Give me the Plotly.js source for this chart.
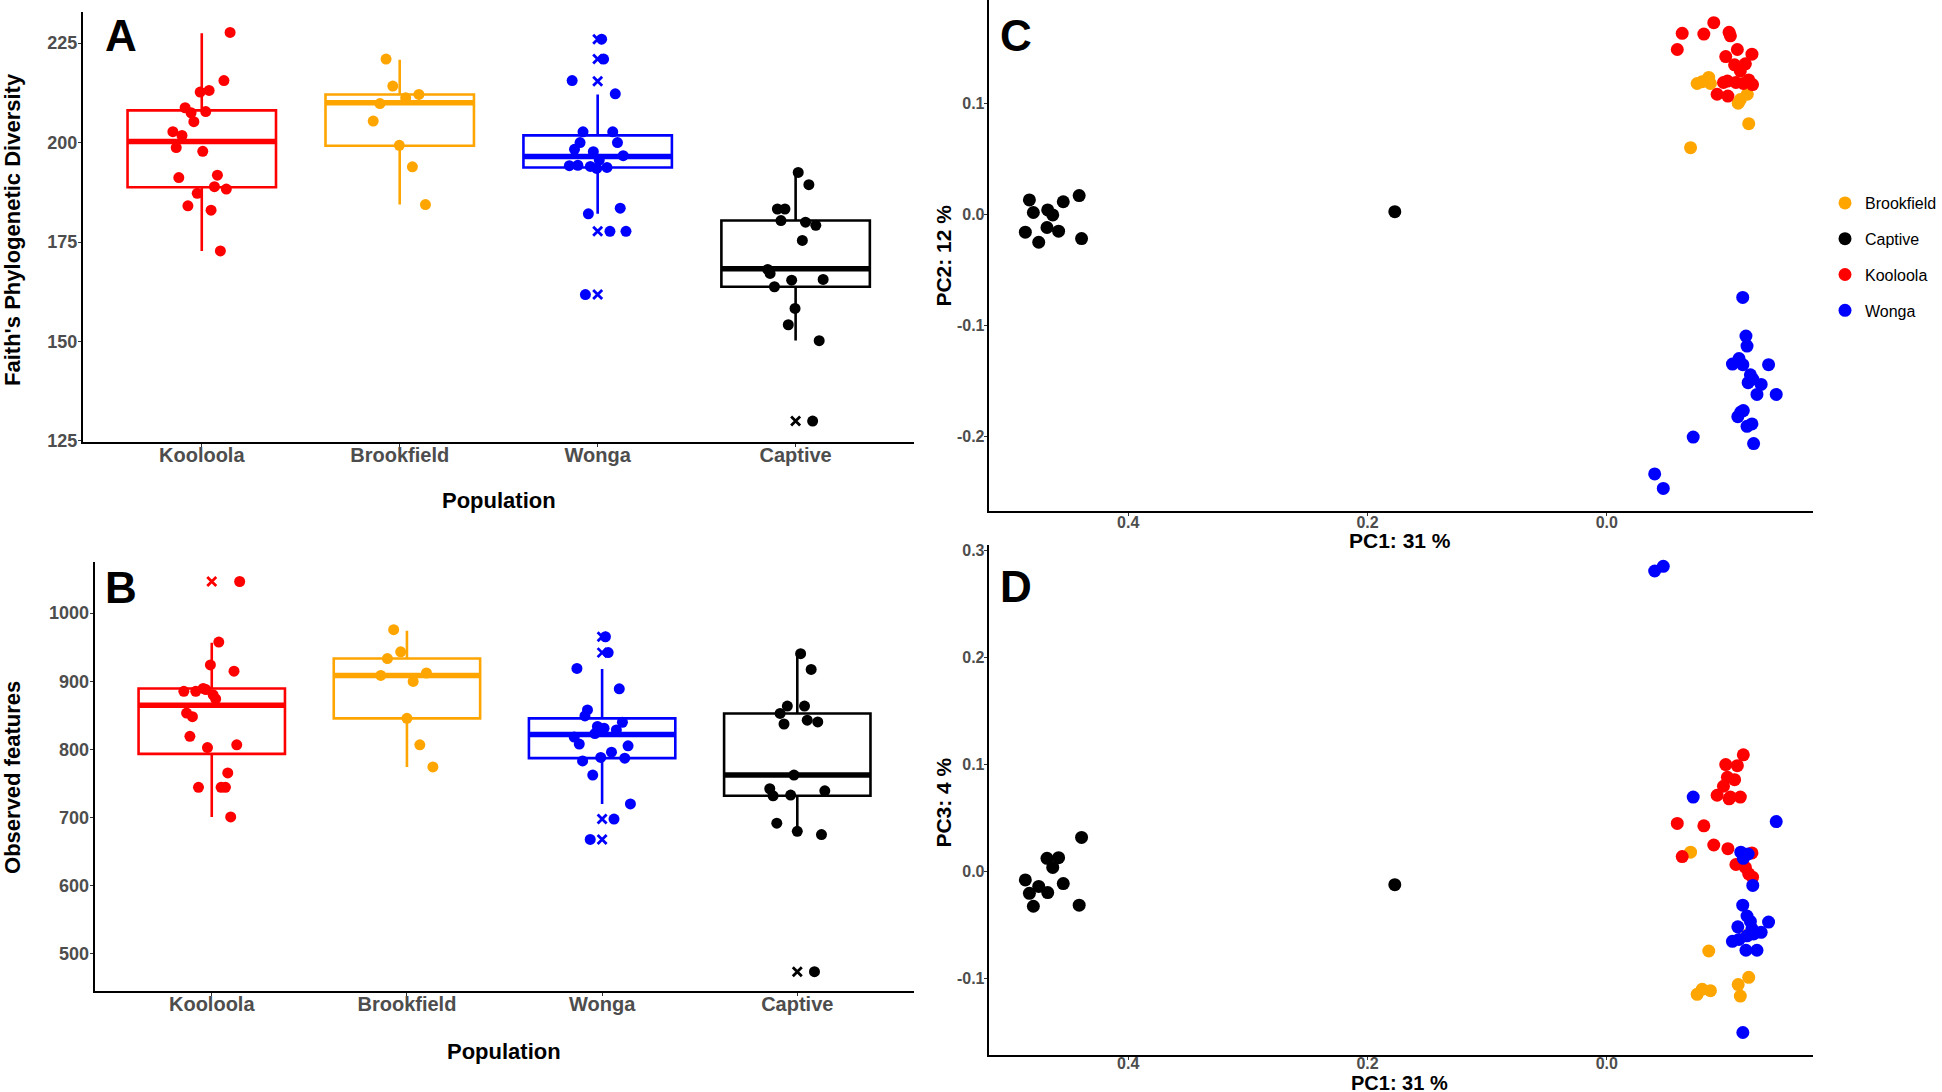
<!DOCTYPE html>
<html><head><meta charset="utf-8">
<script src="https://cdn.plot.ly/plotly-3.0.1.min.js"></script>
<style>html,body{margin:0;padding:0;background:#fff}#chart{width:1942px;height:1092px}</style>
</head><body><div id="chart"></div>
<script>
const W = 1942, H = 1092;
const FONT = "Liberation Sans, Arial, Helvetica, sans-serif";

const categories = ["Kooloola", "Brookfield", "Wonga", "Captive"];
const groupColors = ["#FF0000", "#FFA500", "#0000FF", "#000000"];

// ---- Panel A: Faith's Phylogenetic Diversity ----
const faithKooloola = [227.7, 215.6, 212.7, 213.1, 208.75, 207.5, 207.8, 205.25, 202.75, 201.8, 198.75, 197.8, 191.2, 191.8, 187.25, 188.9, 188.3, 184.1, 183.0, 172.75];
const faithKooloolaJitter = [0.143, 0.112, -0.008, 0.037, -0.084, -0.054, 0.02, -0.04, -0.146, -0.10, -0.129, 0.005, -0.116, 0.079, -0.023, 0.064, 0.124, -0.07, 0.047, 0.094];
const faithBrookfield = [221, 214.2, 211.25, 212.1, 209.8, 205.4, 199.3, 193.9, 184.4];
const faithBrookfieldJitter = [-0.069, -0.035, 0.03, 0.097, -0.10, -0.134, -0.002, 0.064, 0.13];
const faithWonga = [226, 221, 215.6, 212.25, 202.7, 202.7, 200, 200, 198.3, 197.7, 196.7, 195.6, 194.2, 194.3, 194, 193.5, 193.75, 182.1, 183.5, 177.7, 177.7, 161.8];
const faithWongaJitter = [0.02, 0.03, -0.129, 0.089, -0.074, 0.076, -0.089, 0.10, -0.117, -0.022, 0.129, 0.008, -0.143, -0.10, -0.037, -0.005, 0.047, -0.047, 0.114, 0.062, 0.143, -0.062];
const faithCaptive = [192.5, 189.4, 183.3, 183.3, 180.4, 180, 179.2, 175.4, 168.1, 167.1, 165.4, 165.6, 163.75, 158.3, 154.2, 150.2, 130];
const faithCaptiveJitter = [0.013, 0.067, -0.092, -0.054, -0.074, 0.05, 0.102, 0.034, -0.141, -0.129, -0.02, 0.139, -0.107, -0.003, -0.037, 0.119, 0.086];
const faithQ1 = [188.75, 199.2, 193.75, 163.75];
const faithMedian = [200.25, 210, 196.5, 168.3];
const faithQ3 = [208.1, 212.1, 201.8, 180.4];
const faithLower = [172.75, 184.4, 182.1, 150.25];
const faithUpper = [227.5, 220.8, 212.1, 192.5];
const faithOutlierGroup = [3, 3, 3, 3, 3, 4];
const faithOutlierValue = [226, 221, 215.4, 177.7, 161.8, 130];
const faithTicks = [125, 150, 175, 200, 225];

// ---- Panel B: Observed features ----
const obsKooloola = [1046.5, 957.6, 924, 914.8, 885.3, 885.3, 889.5, 880.2, 874, 853.3, 848.1, 819.2, 802.7, 806.8, 765.5, 744.3, 744.3, 744.3, 700.9, 887.9];
const obsKooloolaJitter = [0.143, 0.036, -0.007, 0.114, -0.143, -0.082, -0.044, 0.007, 0.02, -0.129, -0.099, -0.112, -0.022, 0.128, 0.082, -0.068, 0.048, 0.07, 0.097, -0.03];
const obsBrookfield = [975.7, 943.2, 933.4, 908.6, 912.2, 899.8, 845.6, 806.8, 774.3];
const obsBrookfieldJitter = [-0.068, -0.032, -0.1, -0.134, 0.1, 0.032, 0, 0.066, 0.133];
const obsWonga = [965.4, 942.1, 918.9, 888.9, 857.9, 849.2, 839.9, 833.7, 831.1, 828.5, 823.3, 818.2, 807.9, 805.3, 796, 788.2, 787.2, 783.1, 762.4, 720, 697.8, 667.9];
const obsWongaJitter = [0.017, 0.031, -0.129, 0.088, -0.075, -0.088, 0.104, -0.024, 0.01, 0.073, -0.037, -0.143, -0.117, 0.133, 0.048, -0.007, 0.116, -0.1, -0.048, 0.145, 0.061, -0.061];
const obsCaptive = [940.6, 917.4, 863.6, 863.6, 852.8, 837.3, 843, 840.4, 762.4, 742.3, 731.9, 733, 739.2, 691.8, 679.8, 675.1, 473.7];
const obsCaptiveJitter = [0.017, 0.071, -0.051, 0.037, -0.088, -0.068, 0.051, 0.105, -0.017, -0.141, -0.124, -0.034, 0.141, -0.105, 0, 0.124, 0.088];
const obsQ1 = [793.4, 845.6, 787.2, 731.9];
const obsMedian = [864.7, 908.6, 821.8, 762.4];
const obsQ3 = [889.5, 933.4, 845.6, 852.8];
const obsLower = [700.9, 774.3, 720, 678.7];
const obsUpper = [956.6, 974.2, 917.9, 939.6];
const obsOutlierGroup = [1, 3, 3, 3, 3, 4];
const obsOutlierValue = [1046.5, 965.4, 942.1, 697.8, 667.9, 473.7];
const obsTicks = [500, 600, 700, 800, 900, 1000];

// ---- Panels C & D: PCA ----
const pcaGroups = ["Brookfield", "Captive", "Kooloola", "Wonga"];
const pcaColors = ["#FFA500", "#000000", "#FF0000", "#0000FF"];
const pc1Brookfield = [-0.0700, -0.0755, -0.0797, -0.0852, -0.0866, -0.1098, -0.1116, -0.1174, -0.1186];
const pc2Brookfield = [0.0600, 0.1178, 0.1194, 0.1233, 0.1178, 0.1000, 0.1033, 0.1081, 0.0816];
const pc3Brookfield = [0.0182, -0.1145, -0.1098, -0.0741, -0.1111, -0.1054, -0.1162, -0.0593, -0.0987];
const pc1Captive = [0.4826, 0.4793, 0.4673, 0.4631, 0.4543, 0.441, 0.486, 0.4748, 0.4679, 0.4582, 0.439, 0.1772];
const pc2Captive = [0.0129, 0.0016, 0.0039, -0.0006, 0.0113, 0.0168, -0.0161, -0.0252, -0.0119, -0.0152, -0.0219, 0.0023];
const pc3Captive = [-0.0202, -0.0323, -0.0195, 0.004, -0.0111, -0.0313, -0.0077, -0.0138, 0.0125, 0.0131, 0.032, -0.0121];
const pc1Kooloola = [-0.0589, -0.0630, -0.0811, -0.0894, -0.0922, -0.0975, -0.0994, -0.1008, -0.1012, -0.1022, -0.1033, -0.1068, -0.1079, -0.1091, -0.1116, -0.1141, -0.1158, -0.1186, -0.1213, -0.1218];
const pc2Kooloola = [0.1484, 0.1630, 0.1623, 0.1726, 0.1081, 0.1187, 0.1420, 0.1200, 0.1065, 0.1639, 0.1607, 0.1346, 0.1187, 0.1484, 0.1291, 0.1178, 0.1355, 0.1210, 0.1442, 0.1168];
const pc3Kooloola = [0.0451, 0.0141, 0.0428, 0.0249, 0.0714, 0.0798, 0.1000, 0.0882, 0.0215, 0.0680, 0.0697, 0.0859, 0.0067, 0.0990, 0.0697, 0.1091, 0.0040, -0.0020, 0.0175, -0.0051];
const pc1Wonga = [-0.0400, -0.0472, -0.0722, -0.1050, -0.1095, -0.1105, -0.1120, -0.1136, -0.1137, -0.1141, -0.1163, -0.1172, -0.1172, -0.1181, -0.1200, -0.1213, -0.1220, -0.1227, -0.1255, -0.1290, -0.1352, -0.1416];
const pc2Wonga = [-0.2339, -0.2469, -0.2007, -0.1349, -0.1823, -0.1300, -0.1781, -0.0749, -0.1355, -0.1768, -0.1097, -0.1187, -0.1910, -0.1517, -0.1446, -0.1888, -0.1484, -0.2065, -0.1623, -0.1533, -0.1355, -0.1623];
const pc3Wonga = [0.2808, 0.2852, 0.0697, -0.0650, -0.0515, -0.0633, 0.0182, -0.0313, -0.1502, 0.0125, -0.0734, -0.0414, -0.0599, 0.0165, -0.0465, -0.0532, -0.0128, -0.0582, -0.0734, -0.0566, -0.0471, 0.0468];
const pc1Ticks = [0.4, 0.2, 0.0];
const pc2Ticks = [-0.2, -0.1, 0.0, 0.1];
const pc3Ticks = [-0.1, 0.0, 0.1, 0.2, 0.3];

// ---------------------------------------------------
const px = v => v / W;
const py = v => 1 - v / H;
const fmt1 = v => (v < 0 ? "-" : "") + Math.abs(v).toFixed(1);

const traces = [];

function boxPanel(xa, ya, groups, jitters, q1, med, q3, lo, hi, outG, outV) {
  for (let i = 0; i < 4; i++) {
    traces.push({
      type: "box", xaxis: xa, yaxis: ya, x: [i + 1],
      q1: [q1[i]], median: [med[i]], q3: [q3[i]], lowerfence: [lo[i]], upperfence: [hi[i]],
      width: 0.75, whiskerwidth: 0, boxpoints: false,
      line: { color: groupColors[i], width: 2.6 }, fillcolor: "rgba(0,0,0,0)",
      showlegend: false, hoverinfo: "skip"
    });
    traces.push({
      type: "scatter", mode: "lines", xaxis: xa, yaxis: ya,
      x: [i + 1 - 0.375, i + 1 + 0.375], y: [med[i], med[i]],
      line: { color: groupColors[i], width: 5.5 }, showlegend: false, hoverinfo: "skip"
    });
  }
  traces.push({
    type: "scatter", mode: "markers", xaxis: xa, yaxis: ya,
    x: outG, y: outV,
    marker: { symbol: "x-thin", size: 9, color: outG.map(g => groupColors[g - 1]),
      line: { color: outG.map(g => groupColors[g - 1]), width: 2.8 } },
    showlegend: false, hoverinfo: "skip"
  });
  for (let i = 0; i < 4; i++) {
    traces.push({
      type: "scatter", mode: "markers", xaxis: xa, yaxis: ya,
      x: groups[i].map((v, k) => i + 1 + jitters[i][k]), y: groups[i],
      marker: { color: groupColors[i], size: 11, line: { width: 0 } },
      showlegend: false, hoverinfo: "skip"
    });
  }
}

boxPanel("x", "y",
  [faithKooloola, faithBrookfield, faithWonga, faithCaptive],
  [faithKooloolaJitter, faithBrookfieldJitter, faithWongaJitter, faithCaptiveJitter],
  faithQ1, faithMedian, faithQ3, faithLower, faithUpper, faithOutlierGroup, faithOutlierValue);
boxPanel("x2", "y2",
  [obsKooloola, obsBrookfield, obsWonga, obsCaptive],
  [obsKooloolaJitter, obsBrookfieldJitter, obsWongaJitter, obsCaptiveJitter],
  obsQ1, obsMedian, obsQ3, obsLower, obsUpper, obsOutlierGroup, obsOutlierValue);

const pc1 = [pc1Brookfield, pc1Captive, pc1Kooloola, pc1Wonga];
const pc2 = [pc2Brookfield, pc2Captive, pc2Kooloola, pc2Wonga];
const pc3 = [pc3Brookfield, pc3Captive, pc3Kooloola, pc3Wonga];
for (let i = 0; i < 4; i++) {
  traces.push({
    type: "scatter", mode: "markers", xaxis: "x3", yaxis: "y3",
    x: pc1[i], y: pc2[i], name: pcaGroups[i], legendgroup: pcaGroups[i],
    marker: { color: pcaColors[i], size: 13, line: { width: 0 } },
    showlegend: true, hoverinfo: "skip"
  });
}
for (let i = 0; i < 4; i++) {
  traces.push({
    type: "scatter", mode: "markers", xaxis: "x4", yaxis: "y4",
    x: pc1[i], y: pc3[i], name: pcaGroups[i], legendgroup: pcaGroups[i],
    marker: { color: pcaColors[i], size: 13, line: { width: 0 } },
    showlegend: false, hoverinfo: "skip"
  });
}

const tickGray = "#4D4D4D";
function axisBase(extra) {
  return Object.assign({
    showline: true, linecolor: "#000000", linewidth: 2, mirror: false,
    ticks: "outside", ticklen: 3, tickwidth: 1, tickcolor: "#333333",
    showgrid: false, zeroline: false, fixedrange: true,
    tickfont: { family: FONT, size: 18, color: tickGray, weight: "bold" }
  }, extra);
}

const layout = {
  width: W, height: H,
  margin: { l: 0, r: 0, t: 0, b: 0, pad: 0 },
  paper_bgcolor: "#FFFFFF", plot_bgcolor: "#FFFFFF",
  font: { family: FONT },
  showlegend: true,
  legend: {
    x: px(1832), y: py(186), xanchor: "left", yanchor: "top",
    font: { family: FONT, size: 16, color: "#000000" },
    bgcolor: "rgba(0,0,0,0)", borderwidth: 0,
    traceorder: "grouped", tracegroupgap: 12
  },
  xaxis: axisBase({ domain: [px(83.3), px(917.7)], range: [0.4, 4.6], anchor: "y",
    tickvals: [1, 2, 3, 4], ticktext: categories, ticklabelstandoff: -9,
    tickfont: { family: FONT, size: 20, color: tickGray, weight: "bold" } }),
  yaxis: axisBase({ domain: [py(441.7), py(11.7)], range: [124.8, 232.9], anchor: "x",
    tickvals: faithTicks, ticktext: faithTicks.map(String), ticklabelstandoff: -3 }),
  xaxis2: axisBase({ domain: [px(95), px(917.7)], range: [0.4, 4.6], anchor: "y2",
    tickvals: [1, 2, 3, 4], ticktext: categories, ticklabelstandoff: -9,
    tickfont: { family: FONT, size: 20, color: tickGray, weight: "bold" } }),
  yaxis2: axisBase({ domain: [py(990.6), py(561.8)], range: [446, 1075.4], anchor: "x2",
    tickvals: obsTicks, ticktext: obsTicks.map(String), ticklabelstandoff: -3 }),
  xaxis3: axisBase({ domain: [px(992.3), px(1820)], range: [0.5166, -0.1727], anchor: "y3",
    tickvals: pc1Ticks, ticktext: pc1Ticks.map(fmt1), ticklabelstandoff: -7,
    tickfont: { family: FONT, size: 16, color: tickGray, weight: "bold" } }),
  yaxis3: axisBase({ domain: [py(510.7), 1], range: [-0.267, 0.193], anchor: "x3",
    tickvals: pc2Ticks, ticktext: pc2Ticks.map(fmt1), ticklabelstandoff: -4,
    tickfont: { family: FONT, size: 16, color: tickGray, weight: "bold" } }),
  xaxis4: axisBase({ domain: [px(992.3), px(1820)], range: [0.5166, -0.1727], anchor: "y4",
    tickvals: pc1Ticks, ticktext: pc1Ticks.map(fmt1), ticklabelstandoff: -10,
    tickfont: { family: FONT, size: 16, color: tickGray, weight: "bold" } }),
  yaxis4: axisBase({ domain: [py(1055.1), py(545.1)], range: [-0.1713, 0.305], anchor: "x4",
    tickvals: pc3Ticks, ticktext: pc3Ticks.map(fmt1), ticklabelstandoff: -4,
    tickfont: { family: FONT, size: 16, color: tickGray, weight: "bold" } }),
  annotations: []
};

function note(text, x, y, size, angle) {
  layout.annotations.push({
    text: text, x: px(x), y: py(y), xref: "paper", yref: "paper",
    xanchor: "center", yanchor: "middle", showarrow: false, textangle: angle || 0,
    font: { family: FONT, size: size, color: "#000000", weight: "bold" }
  });
}
note("Faith's Phylogenetic Diversity", 12, 229, 22, -90);
note("Population", 500.5, 501, 22);
note("Observed features", 12, 777, 22, -90);
note("Population", 506, 1051, 22);
note("PC2: 12 %", 946, 256, 21, -90);
note("PC1: 31 %", 1405, 540, 21);
note("PC3: 4 %", 946, 803, 21, -90);
note("PC1: 31 %", 1405, 1083, 20);
note("A", 121, 35, 44);
note("B", 121, 587, 44);
note("C", 1020, 35, 44);
note("D", 1020, 586, 44);

Plotly.newPlot("chart", traces, layout, { displayModeBar: false, staticPlot: true });
</script>
</body></html>
